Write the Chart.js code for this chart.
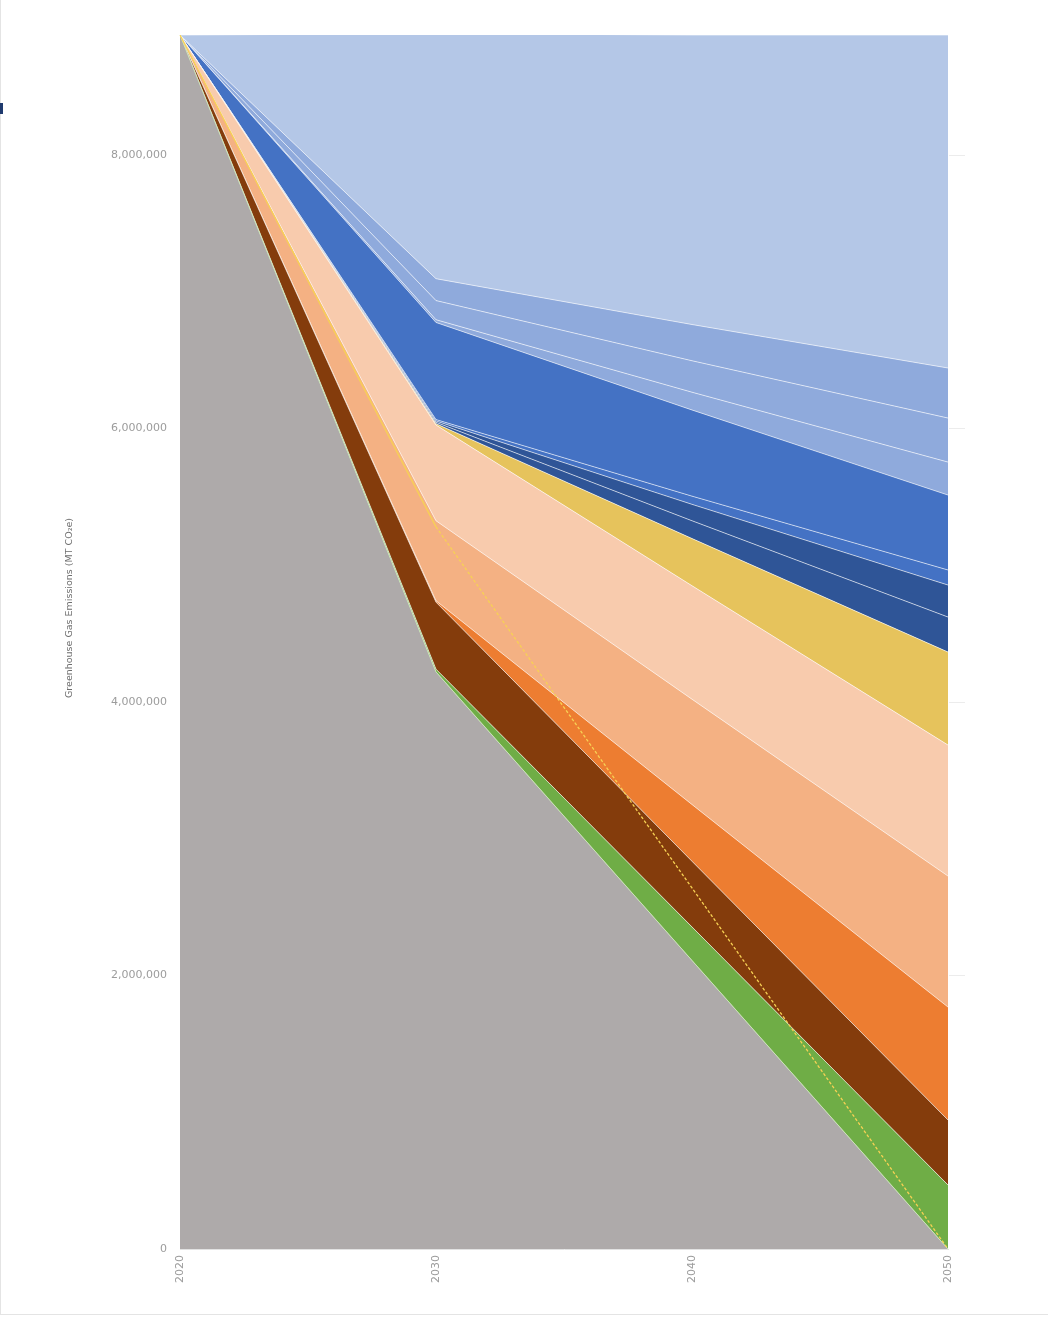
<!DOCTYPE html>
<html>
<head>
<meta charset="utf-8">
<script src="https://cdn.jsdelivr.net/npm/chart.js@4/dist/chart.umd.min.js"></script>
<style>
  html, body { margin: 0; padding: 0; background: #fff; }
  #wrap { position: relative; width: 1048px; height: 1318px; }
  #edgeLeft { position: absolute; left: 0; top: 0; width: 1px; height: 1314px; background: #e4e4e4; }
  #edgeBottom { position: absolute; left: 0; top: 1314px; width: 1048px; height: 1px; background: #e4e4e4; }
  #mark { position: absolute; left: 0; top: 103px; width: 3px; height: 11px; background: #1f3a6e; }
</style>
</head>
<body>
<div id="wrap">
  <canvas id="chart" width="1048" height="1318"></canvas>
  <div id="edgeLeft"></div>
  <div id="edgeBottom"></div>
  <div id="mark"></div>
</div>
<script>
// ==============================
// Datos
// ==============================
const years = ['2020', '2030', '2040', '2050'];
const yTicks = [0, 2000000, 4000000, 6000000, 8000000];
const yMax = 8877000;

// capas apiladas, de abajo hacia arriba
const gris      = [8877000, 4220000, 2110000, 0];
const verde     = [0, 20000, 245000, 468000];
const marron    = [0, 490000, 480000, 475000];
const naranja   = [0, 10000, 415000, 826000];
const salmon    = [0, 585000, 770000, 958000];
const durazno   = [0, 700000, 830000, 958000];
const amarillo  = [0, 10000, 345000, 680000];
const azulOsc1  = [0, 10000, 130000, 256000];
const azulOsc2  = [0, 10000, 120000, 234000];
const azulFino  = [0, 10000, 60000, 110000];
const azul      = [0, 710000, 630000, 548000];
const celesteA  = [0, 20000, 130000, 241000];
const celesteB  = [0, 140000, 230000, 322000];
const celesteC  = [0, 160000, 265000, 366000];
const celesteTop = [0, 1792000, 2117000, 2435000];

// línea de referencia (no apilada)
const meta = [8877000, 5280000, 2640000, 0];

const fmt = (v) => v.toLocaleString('en-US');

// ==============================
// Series
// ==============================
const capas = [
  { label: 'Serie 1',  data: gris,       color: '#aeaaaa', border: 'rgba(205,232,185,0.9)' },
  { label: 'Serie 2',  data: verde,      color: '#6fad46' },
  { label: 'Serie 3',  data: marron,     color: '#843c0c' },
  { label: 'Serie 4',  data: naranja,    color: '#ed7d31' },
  { label: 'Serie 5',  data: salmon,     color: '#f4b183' },
  { label: 'Serie 6',  data: durazno,    color: '#f8cbad' },
  { label: 'Serie 7',  data: amarillo,   color: '#e6c35c' },
  { label: 'Serie 8',  data: azulOsc1,   color: '#2f5597' },
  { label: 'Serie 9',  data: azulOsc2,   color: '#2f5597' },
  { label: 'Serie 10', data: azulFino,   color: '#4472c4' },
  { label: 'Serie 11', data: azul,       color: '#4472c4' },
  { label: 'Serie 12', data: celesteA,   color: '#8faadc' },
  { label: 'Serie 13', data: celesteB,   color: '#8faadc' },
  { label: 'Serie 14', data: celesteC,   color: '#8faadc' },
  { label: 'Serie 15', data: celesteTop, color: '#b4c7e7' }
];

const datasets = capas.map((c, i) => ({
  label: c.label,
  data: c.data,
  stack: 'total',
  backgroundColor: c.color,
  borderColor: c.border || 'rgba(255,255,255,0.6)',
  borderWidth: 1,
  pointRadius: 0,
  tension: 0,
  fill: i === 0 ? 'origin' : '-1'
}));

datasets.push({
  label: 'Meta',
  data: meta,
  stack: 'meta',
  order: -1,
  fill: false,
  borderColor: '#f7d154',
  borderWidth: 1.3,
  pointRadius: 0,
  tension: 0,
  segment: { borderDash: (ctx) => ctx.p0DataIndex >= 1 ? [3, 2] : undefined }
});

// ==============================
// Extras: título del eje y guías cortas
// ==============================
const extras = {
  id: 'extras',
  afterDraw(chart) {
    const { ctx, chartArea, scales } = chart;
    ctx.save();
    ctx.strokeStyle = '#ececec';
    ctx.lineWidth = 1;
    for (const v of yTicks) {
      if (!v) continue;
      const y = Math.round(scales.y.getPixelForValue(v)) + 0.5;
      ctx.beginPath();
      ctx.moveTo(chartArea.right + 1, y);
      ctx.lineTo(chartArea.right + 17, y);
      ctx.stroke();
    }
    ctx.translate(70, 608);
    ctx.rotate(-Math.PI / 2);
    ctx.fillStyle = '#6e6e6e';
    ctx.font = '9.5px "DejaVu Sans"';
    ctx.textAlign = 'center';
    ctx.textBaseline = 'middle';
    ctx.fillText('Greenhouse Gas Emissions (MT CO\u2082e)', 0, 0);
    ctx.restore();
  }
};

new Chart(document.getElementById('chart'), {
  type: 'line',
  data: { labels: years, datasets },
  options: {
    responsive: false,
    animation: false,
    layout: { padding: { top: 35, right: 100, left: 0, bottom: 0 } },
    plugins: { legend: { display: false }, tooltip: { enabled: false } },
    scales: {
      x: {
        grid: { display: false, drawTicks: false },
        border: { display: true, color: '#e2e2e2' },
        ticks: {
          minRotation: 90, maxRotation: 90, padding: 6,
          color: '#9c9c9c', font: { family: 'DejaVu Sans', size: 11 }
        },
        afterFit: (s) => { s.height = 69; }
      },
      y: {
        stacked: true,
        min: 0,
        max: yMax,
        grid: { display: false, drawTicks: false },
        border: { display: false },
        ticks: {
          padding: 13,
          color: '#9c9c9c', font: { family: 'DejaVu Sans', size: 11 },
          callback: (v) => fmt(v)
        },
        afterBuildTicks: (s) => { s.ticks = yTicks.map(v => ({ value: v })); },
        afterFit: (s) => { s.width = 180; }
      }
    }
  },
  plugins: [extras]
});
</script>
</body>
</html>
